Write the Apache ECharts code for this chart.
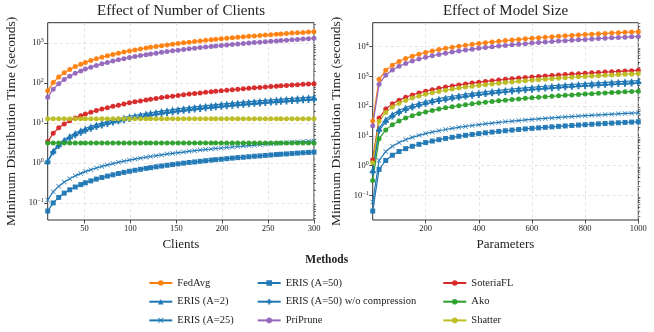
<!DOCTYPE html>
<html>
<head>
<meta charset="utf-8">
<script src="https://cdn.jsdelivr.net/npm/echarts@6/dist/echarts.min.js"></script>
<style>
  html, body { margin: 0; padding: 0; background: #fff; }
  #main { width: 654px; height: 332px; }
</style>
</head>
<body>
<div id="main"></div>
<script>
// left panel: number of clients
var clients = [10,16,22,28,34,40,46,51,57,63,69,75,81,87,93,99,105,111,117,122,128,134,140,146,152,158,164,170,176,182,188,193,199,205,211,217,223,229,235,241,247,253,259,264,270,276,282,288,294,300];
var cFedAvg = [64,102,141,179,218,256,294,326,365,403,442,480,518,557,595,634,672,710,749,781,819,858,896,934,973,1011,1050,1088,1126,1165,1203,1235,1274,1312,1350,1389,1427,1466,1504,1542,1581,1619,1658,1690,1728,1766,1805,1843,1882,1920];
var cEris2 = [1.1,2.0,2.9,3.8,4.7,5.6,6.5,7.25,8.15,9.05,9.95,10.9,11.8,12.7,13.6,14.5,15.4,16.3,17.2,17.9,18.8,19.7,20.6,21.5,22.4,23.3,24.2,25.1,26,26.9,27.8,28.6,29.5,30.4,31.3,32.2,33.1,34,34.9,35.8,36.7,37.6,38.5,39.2,40.1,41,41.9,42.8,43.7,44.6];
var cEris25 = [0.118,0.189,0.26,0.33,0.401,0.472,0.543,0.602,0.673,0.743,0.814,0.885,0.956,1.03,1.1,1.17,1.24,1.31,1.38,1.44,1.51,1.58,1.65,1.72,1.79,1.86,1.94,2.01,2.08,2.15,2.22,2.28,2.35,2.42,2.49,2.56,2.63,2.7,2.77,2.84,2.92,2.99,3.06,3.12,3.19,3.26,3.33,3.4,3.47,3.54];
var cEris50 = [0.062,0.099,0.136,0.174,0.211,0.248,0.285,0.316,0.353,0.391,0.428,0.465,0.502,0.539,0.577,0.614,0.651,0.688,0.725,0.756,0.794,0.831,0.868,0.905,0.942,0.98,1.02,1.05,1.09,1.13,1.17,1.2,1.23,1.27,1.31,1.35,1.38,1.42,1.46,1.49,1.53,1.57,1.61,1.64,1.67,1.71,1.75,1.79,1.82,1.86];
var cErisNoComp = [1.08,1.85,2.62,3.38,4.15,4.92,5.69,6.33,7.1,7.86,8.63,9.4,10.2,10.9,11.7,12.5,13.2,14,14.8,15.4,16.2,17,17.7,18.5,19.3,20,20.8,21.6,22.3,23.1,23.9,24.5,25.3,26,26.8,27.6,28.3,29.1,29.9,30.7,31.4,32.2,33,33.6,34.4,35.1,35.9,36.7,37.4,38.2];
var cPriPrune = [43.5,69.6,95.7,122,148,174,200,222,248,274,300,326,352,378,405,431,457,483,509,531,557,583,609,635,661,687,713,740,766,792,818,840,866,892,918,944,970,996,1022,1048,1074,1101,1127,1148,1175,1201,1227,1253,1279,1305];
var cSoteria = [3.4,5.5,7.5,9.4,11.3,13.2,15.0,16.6,18.5,20.4,22.2,24,25.9,27.8,29.8,31.7,33.6,35.5,37.4,39,41,42.9,44.8,46.7,48.6,50.6,52.5,54.4,56.3,58.2,60.2,61.8,63.7,65.6,67.5,69.4,71.4,73.3,75.2,77.1,79,81,82.9,84.5,86.4,88.3,90.2,92.2,94.1,96];
var cAko = [3.15,3.15,3.15,3.15,3.15,3.15,3.15,3.15,3.15,3.15,3.15,3.15,3.15,3.15,3.15,3.15,3.15,3.15,3.15,3.15,3.15,3.15,3.15,3.15,3.15,3.15,3.15,3.15,3.15,3.15,3.15,3.15,3.15,3.15,3.15,3.15,3.15,3.15,3.15,3.15,3.15,3.15,3.15,3.15,3.15,3.15,3.15,3.15,3.15,3.15];
var cShatter = [12.6,12.6,12.6,12.6,12.6,12.6,12.6,12.6,12.6,12.6,12.6,12.6,12.6,12.6,12.6,12.6,12.6,12.6,12.6,12.6,12.6,12.6,12.6,12.6,12.6,12.6,12.6,12.6,12.6,12.6,12.6,12.6,12.6,12.6,12.6,12.6,12.6,12.6,12.6,12.6,12.6,12.6,12.6,12.6,12.6,12.6,12.6,12.6,12.6,12.6];

// right panel: model size
var params = [1,25,50,75,100,125,150,175,200,225,250,275,300,325,350,375,400,425,450,475,500,525,550,575,600,625,650,675,700,725,750,775,800,825,850,875,900,925,950,975,1000];
var pFedAvg = [32,800,1600,2400,3200,4000,4800,5600,6400,7200,8000,8800,9600,10400,11200,12000,12800,13600,14400,15200,16000,16800,17600,18400,19200,20000,20800,21600,22400,23200,24000,24800,25600,26400,27200,28000,28800,29600,30400,31200,32000];
var pEris2 = [0.72,18,36,54,72,90,108,126,144,162,180,198,216,234,252,270,288,306,324,342,360,378,396,414,432,450,468,486,504,522,540,558,576,594,612,630,648,666,684,702,720];
var pEris25 = [0.06,1.5,3,4.5,6,7.5,9,10.5,12,13.5,15,16.5,18,19.5,21,22.5,24,25.5,27,28.5,30,31.5,33,34.5,36,37.5,39,40.5,42,43.5,45,46.5,48,49.5,51,52.5,54,55.5,57,58.5,60];
var pEris50 = [0.03,0.75,1.5,2.25,3,3.75,4.5,5.25,6,6.75,7.5,8.25,9,9.75,10.5,11.25,12,12.75,13.5,14.25,15,15.75,16.5,17.25,18,18.75,19.5,20.25,21,21.75,22.5,23.25,24,24.75,25.5,26.25,27,27.75,28.5,29.25,30];
var pErisNoComp = [0.6,15,30,45,60,75,90,105,120,135,150,165,180,195,210,225,240,255,270,285,300,315,330,345,360,375,390,405,420,435,450,465,480,495,510,525,540,555,570,585,600];
var pPriPrune = [22,550,1100,1650,2200,2750,3300,3850,4400,4950,5500,6050,6600,7150,7700,8250,8800,9350,9900,10450,11000,11550,12100,12650,13200,13750,14300,14850,15400,15950,16500,17050,17600,18150,18700,19250,19800,20350,20900,21450,22000];
var pSoteria = [1.6,40,80,120,160,200,240,280,320,360,400,440,480,520,560,600,640,680,720,760,800,840,880,920,960,1000,1040,1080,1120,1160,1200,1240,1280,1320,1360,1400,1440,1480,1520,1560,1600];
var pAko = [0.32,8,16,24,32,40,48,56,64,72,80,88,96,104,112,120,128,136,144,152,160,168,176,184,192,200,208,216,224,232,240,248,256,264,272,280,288,296,304,312,320];
var pShatter = [1.25,31,62,94,125,156,188,219,250,281,312,344,375,406,438,469,500,531,562,594,625,656,688,719,750,781,812,844,875,906,938,969,1000,1031,1062,1094,1125,1156,1188,1219,1250];

var clientTicks = [50,100,150,200,250,300];
var paramTicks = [200,400,600,800,1000];
var leftDecades = [0.1,1,10,100,1000];
var rightDecades = [0.1,1,10,100,1000,10000];

var FONT = 'Liberation Serif';
var INK = '#222';
var xMark = 'path://M0,1L1,0L5,4L9,0L10,1L6,5L10,9L9,10L5,6L1,10L0,9L4,5Z';
var plusMark = 'path://M3.3,0H6.7V3.3H10V6.7H6.7V10H3.3V6.7H0V3.3H3.3Z';

var methods = [
    { name: 'FedAvg', color: '#ff7f0e', symbol: 'circle', size: 5, left: cFedAvg, right: pFedAvg },
    { name: 'ERIS (A=2)', color: '#1f77b4', symbol: 'triangle', size: 6, left: cEris2, right: pEris2 },
    { name: 'ERIS (A=25)', color: '#1f77b4', symbol: xMark, size: 5, left: cEris25, right: pEris25 },
    { name: 'ERIS (A=50)', color: '#1f77b4', symbol: 'rect', size: 5, left: cEris50, right: pEris50 },
    { name: 'ERIS (A=50) w/o compression', color: '#1f77b4', symbol: plusMark, size: 6, left: cErisNoComp, right: pErisNoComp },
    { name: 'PriPrune', color: '#9467bd', symbol: 'circle', size: 5, left: cPriPrune, right: pPriPrune },
    { name: 'SoteriaFL', color: '#d62728', symbol: 'circle', size: 5, left: cSoteria, right: pSoteria },
    { name: 'Ako', color: '#2ca02c', symbol: 'circle', size: 5, left: cAko, right: pAko },
    { name: 'Shatter', color: '#bcbd22', symbol: 'circle', size: 5, left: cShatter, right: pShatter }
];

function minorTicks(lo, hi) {
    var out = [];
    for (var e = lo; e <= hi; e++) {
        for (var k = 2; k <= 9; k++) out.push(k * Math.pow(10, e));
    }
    return out;
}

function powLabel(v) {
    var e = Math.round(Math.log10(v));
    return '10{s|' + (e < 0 ? '\u2212' + (-e) : e) + '}';
}

var labelRich = { s: { fontFamily: FONT, fontSize: 6, color: INK, verticalAlign: 'top', padding: [0, 0, 5, 0] } };

function xAxisOf(grid, min, max, ticks, name) {
    return {
        type: 'value', gridIndex: grid, min: min, max: max,
        name: name, nameLocation: 'middle', nameGap: 18,
        nameTextStyle: { fontFamily: FONT, fontSize: 13, color: INK },
        axisLine: { show: false },
        axisTick: { show: true, length: 3.5, customValues: ticks, lineStyle: { color: INK, width: 0.8 } },
        axisLabel: { customValues: ticks, formatter: function (v) { return String(v); },
                     fontFamily: FONT, fontSize: 8.5, color: INK, margin: 4 },
        splitLine: { show: true, lineStyle: { color: '#d8d8d8', width: 0.7, type: [3, 3] } }
    };
}

function yAxisOf(grid, min, max, ticks) {
    return {
        type: 'log', logBase: 10, gridIndex: grid, min: min, max: max,
        name: 'Minimum Distribution Time (seconds)', nameLocation: 'middle', nameGap: 29,
        nameTextStyle: { fontFamily: FONT, fontSize: 13.5, color: INK },
        axisLine: { show: false },
        axisTick: { show: true, length: 3.5, customValues: ticks, lineStyle: { color: INK, width: 0.8 } },
        axisLabel: { customValues: ticks, formatter: powLabel, rich: labelRich, fontFamily: FONT, fontSize: 8.5, color: INK, margin: 4 },
        splitLine: { show: true, lineStyle: { color: '#d8d8d8', width: 0.7, type: [3, 3] } }
    };
}

function minorAxisOf(grid, min, max, lo, hi) {
    var mt = minorTicks(lo, hi).filter(function (v) { return v > min && v < max; });
    return {
        type: 'log', logBase: 10, gridIndex: grid, min: min, max: max,
        axisLine: { show: false },
        axisTick: { show: true, length: 2, customValues: mt, lineStyle: { color: INK, width: 0.6 } },
        axisLabel: { show: false },
        splitLine: { show: false }
    };
}

var series = [];
methods.forEach(function (m) {
    [['left', clients, 0], ['right', params, 1]].forEach(function (p) {
        var ys = m[p[0]], xs = p[1];
        series.push({
            name: m.name, type: 'line', xAxisIndex: p[2], yAxisIndex: p[2] * 2,
            data: xs.map(function (x, i) { return [x, ys[i]]; }),
            symbol: m.symbol, symbolSize: m.size, showSymbol: true,
            lineStyle: { color: m.color, width: 1.2 },
            itemStyle: { color: m.color, opacity: 0.95 },
            emphasis: { disabled: true },
            animation: false
        });
    });
});

function legendOf(names, left) {
    return {
        orient: 'vertical', left: left, top: 272, data: names,
        itemWidth: 23, itemHeight: 7, itemGap: 6.7,
        textStyle: { fontFamily: FONT, fontSize: 10.5, color: INK, lineHeight: 12 },
        selectedMode: false
    };
}

var option = {
    backgroundColor: '#fff',
    animation: false,
    title: [
        { text: 'Effect of Number of Clients', left: 181, top: 4, textAlign: 'center', padding: 0,
          textStyle: { fontFamily: FONT, fontSize: 15, fontWeight: 'normal', color: INK } },
        { text: 'Effect of Model Size', left: 505.5, top: 4, textAlign: 'center', padding: 0,
          textStyle: { fontFamily: FONT, fontSize: 15, fontWeight: 'normal', color: INK } },
        { text: 'Methods', left: 326.7, top: 254, textAlign: 'center', padding: 0,
          textStyle: { fontFamily: FONT, fontSize: 11.5, fontWeight: 'bold', color: INK } }
    ],
    grid: [
        { left: 47.7, top: 22.7, width: 266.3, height: 197.3, show: true, borderColor: '#333', borderWidth: 1, backgroundColor: 'transparent' },
        { left: 372.7, top: 22.7, width: 265.6, height: 197.3, show: true, borderColor: '#333', borderWidth: 1, backgroundColor: 'transparent' }
    ],
    xAxis: [
        xAxisOf(0, 10, 300, clientTicks, 'Clients'),
        xAxisOf(1, 1, 1000, paramTicks, 'Parameters')
    ],
    yAxis: [
        yAxisOf(0, 0.037, 3220, leftDecades),
        minorAxisOf(0, 0.037, 3220, -2, 3),
        yAxisOf(1, 0.015, 64000, rightDecades),
        minorAxisOf(1, 0.015, 64000, -2, 4)
    ],
    legend: [
        legendOf(['FedAvg', 'ERIS (A=2)', 'ERIS (A=25)'], 143.3),
        legendOf(['ERIS (A=50)', 'ERIS (A=50) w/o compression', 'PriPrune'], 251.7),
        legendOf(['SoteriaFL', 'Ako', 'Shatter'], 437.3)
    ],
    series: series
};

var myChart = echarts.init(document.getElementById('main'), null, { renderer: 'canvas' });
myChart.setOption(option);
</script>
</body>
</html>
